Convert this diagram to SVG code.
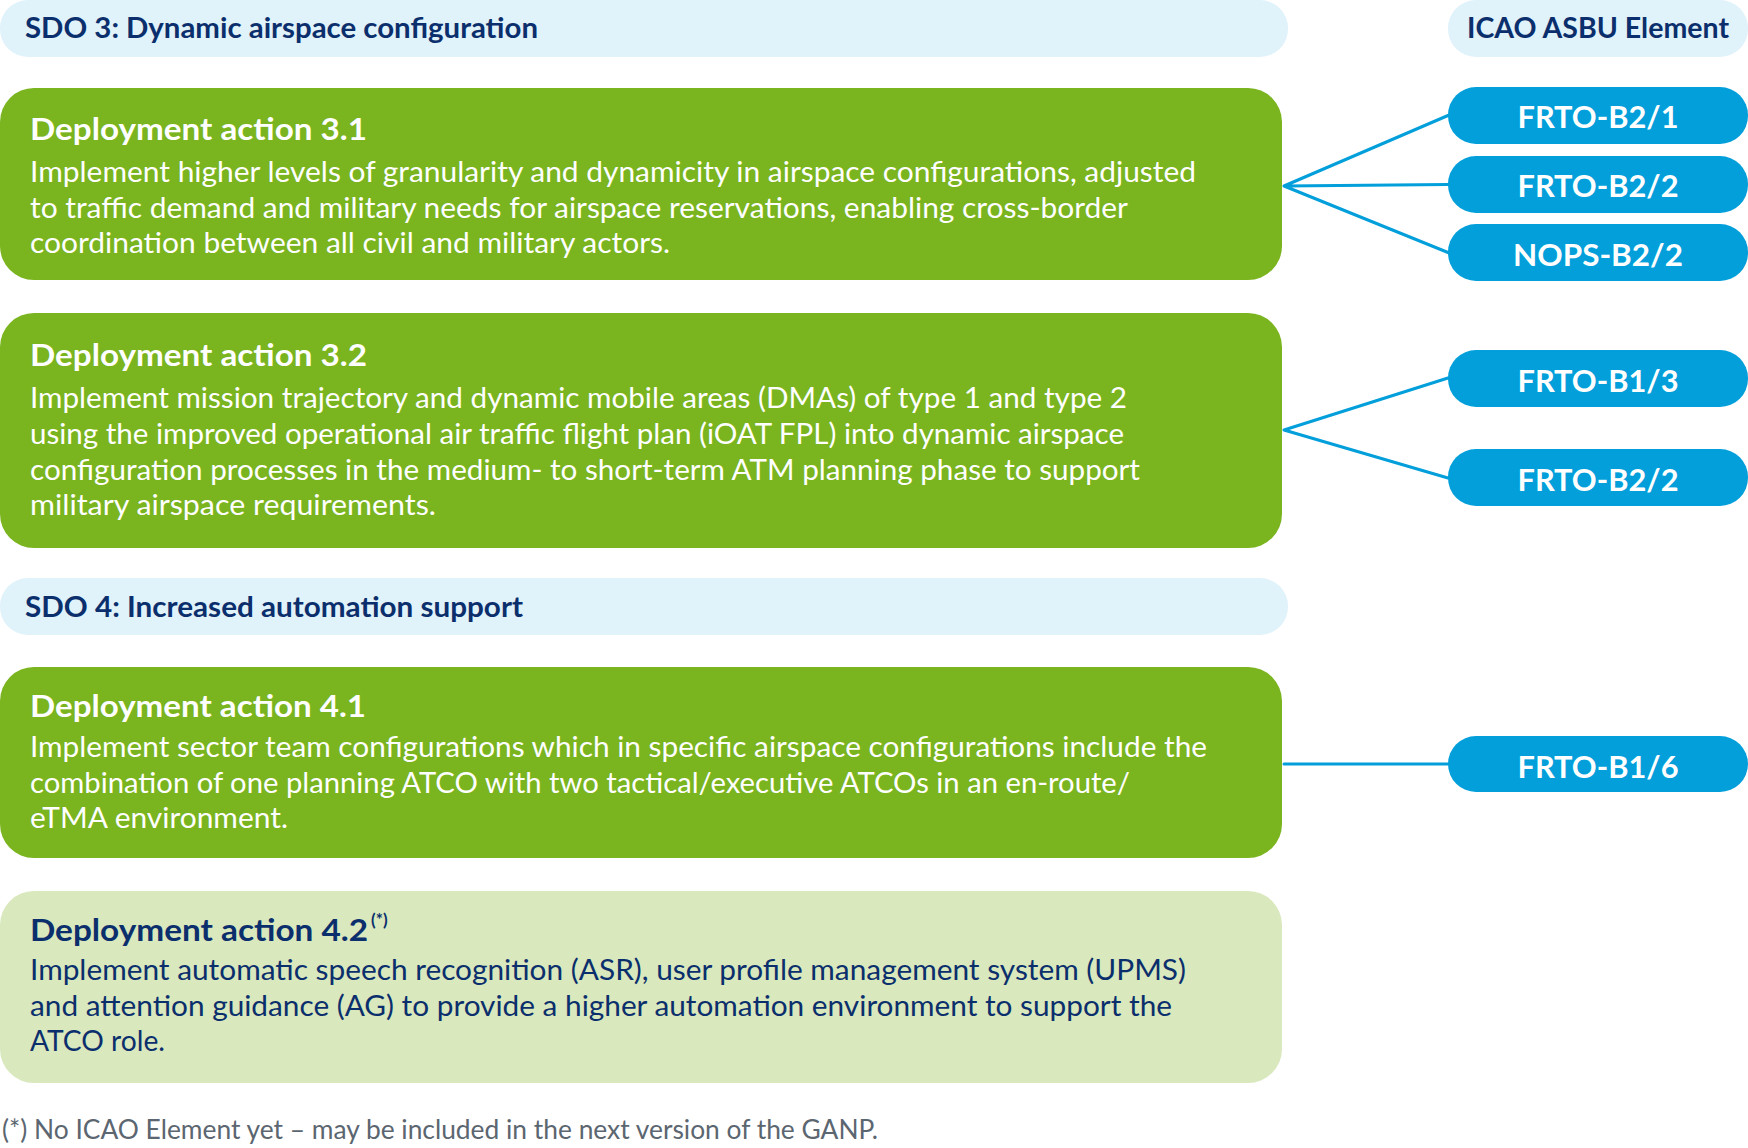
<svg xmlns="http://www.w3.org/2000/svg" width="1748" height="1148" viewBox="0 0 1748 1148">
<style>
.band{fill:#e0f2fa}
.green{fill:#7ab41e}
.lgreen{fill:#d9e8bd}
.pill{fill:#029fdb}
.hdr{font-family:Lato,"Open Sans",sans-serif;font-weight:700;font-size:29px;fill:#0b2f6c}
.ttl{font-family:Lato,"Open Sans",sans-serif;font-weight:700;font-size:31px;fill:#ffffff}
.body{font-family:Lato,"Open Sans",sans-serif;font-weight:400;font-size:28px;fill:#ffffff}
.navy{fill:#0b2f6c}
.ptxt{font-family:Lato,"Open Sans",sans-serif;font-weight:700;font-size:31px;fill:#ffffff;text-anchor:middle}
.foot{font-family:Lato,"Open Sans",sans-serif;font-weight:400;font-size:26px;fill:#5b6670}
.sup{font-family:Lato,"Open Sans",sans-serif;font-weight:700;font-size:17px;fill:#0b2f6c}
.conn{stroke:#029fdb;stroke-width:3;fill:none;stroke-linecap:round}
</style>
<g id="sdo3">
<rect class="band" x="0" y="0" width="1288" height="57" rx="28"/>
<text class="hdr" x="25" y="38" textLength="513" lengthAdjust="spacingAndGlyphs">SDO 3: Dynamic airspace configuration</text>
</g>
<g id="icao-header">
<rect class="band" x="1448" y="0" width="300" height="57" rx="28"/>
<text class="hdr" x="1467" y="38" textLength="262" lengthAdjust="spacingAndGlyphs">ICAO ASBU Element</text>
</g>
<g id="da31">
<rect class="green" x="0" y="88" width="1282" height="192" rx="34"/>
<text class="ttl" x="30" y="140" textLength="337" lengthAdjust="spacingAndGlyphs">Deployment action 3.1</text>
<text class="body" x="30" y="182" textLength="1166" lengthAdjust="spacingAndGlyphs">Implement higher levels of granularity and dynamicity in airspace configurations, adjusted</text>
<text class="body" x="30" y="217.5" textLength="1098" lengthAdjust="spacingAndGlyphs">to traffic demand and military needs for airspace reservations, enabling cross-border</text>
<text class="body" x="30" y="253" textLength="640" lengthAdjust="spacingAndGlyphs">coordination between all civil and military actors.</text>
</g>
<g id="da32">
<rect class="green" x="0" y="313" width="1282" height="235" rx="34"/>
<text class="ttl" x="30" y="366" textLength="337" lengthAdjust="spacingAndGlyphs">Deployment action 3.2</text>
<text class="body" x="30" y="408" textLength="1097" lengthAdjust="spacingAndGlyphs">Implement mission trajectory and dynamic mobile areas (DMAs) of type 1 and type 2</text>
<text class="body" x="30" y="444" textLength="1094" lengthAdjust="spacingAndGlyphs">using the improved operational air traffic flight plan (iOAT FPL) into dynamic airspace</text>
<text class="body" x="30" y="480" textLength="1110" lengthAdjust="spacingAndGlyphs">configuration processes in the medium- to short-term ATM planning phase to support</text>
<text class="body" x="30" y="515" textLength="406" lengthAdjust="spacingAndGlyphs">military airspace requirements.</text>
</g>
<g id="sdo4">
<rect class="band" x="0" y="578" width="1288" height="57" rx="28"/>
<text class="hdr" x="25" y="617" textLength="498" lengthAdjust="spacingAndGlyphs">SDO 4: Increased automation support</text>
</g>
<g id="da41">
<rect class="green" x="0" y="667" width="1282" height="191" rx="34"/>
<text class="ttl" x="30" y="717" textLength="336" lengthAdjust="spacingAndGlyphs">Deployment action 4.1</text>
<text class="body" x="30" y="757" textLength="1177" lengthAdjust="spacingAndGlyphs">Implement sector team configurations which in specific airspace configurations include the</text>
<text class="body" x="30" y="793" textLength="1100" lengthAdjust="spacingAndGlyphs">combination of one planning ATCO with two tactical/executive ATCOs in an en-route/</text>
<text class="body" x="30" y="828" textLength="258" lengthAdjust="spacingAndGlyphs">eTMA environment.</text>
</g>
<g id="da42">
<rect class="lgreen" x="0" y="891" width="1282" height="192" rx="34"/>
<text class="ttl navy" x="30" y="941" textLength="338" lengthAdjust="spacingAndGlyphs">Deployment action 4.2</text>
<text class="sup" x="371" y="926">(*)</text>
<text class="body navy" x="30" y="980" textLength="1156" lengthAdjust="spacingAndGlyphs">Implement automatic speech recognition (ASR), user profile management system (UPMS)</text>
<text class="body navy" x="30" y="1016" textLength="1142" lengthAdjust="spacingAndGlyphs">and attention guidance (AG) to provide a higher automation environment to support the</text>
<text class="body navy" x="30" y="1051" textLength="135" lengthAdjust="spacingAndGlyphs">ATCO role.</text>
</g>
<g id="p-frto-b2-1">
<rect class="pill" x="1448" y="87" width="300" height="57" rx="28"/>
<text class="ptxt" x="1598" y="128" textLength="161" lengthAdjust="spacingAndGlyphs">FRTO-B2/1</text>
</g>
<g id="p-frto-b2-2a">
<rect class="pill" x="1448" y="156" width="300" height="57" rx="28"/>
<text class="ptxt" x="1598" y="197" textLength="161" lengthAdjust="spacingAndGlyphs">FRTO-B2/2</text>
</g>
<g id="p-nops-b2-2">
<rect class="pill" x="1448" y="224" width="300" height="57" rx="28"/>
<text class="ptxt" x="1598" y="266" textLength="170" lengthAdjust="spacingAndGlyphs">NOPS-B2/2</text>
</g>
<g id="p-frto-b1-3">
<rect class="pill" x="1448" y="350" width="300" height="57" rx="28"/>
<text class="ptxt" x="1598" y="392" textLength="161" lengthAdjust="spacingAndGlyphs">FRTO-B1/3</text>
</g>
<g id="p-frto-b2-2b">
<rect class="pill" x="1448" y="449" width="300" height="57" rx="28"/>
<text class="ptxt" x="1598" y="491" textLength="161" lengthAdjust="spacingAndGlyphs">FRTO-B2/2</text>
</g>
<g id="p-frto-b1-6">
<rect class="pill" x="1448" y="736" width="300" height="56" rx="28"/>
<text class="ptxt" x="1598" y="778" textLength="161" lengthAdjust="spacingAndGlyphs">FRTO-B1/6</text>
</g>
<g id="connectors">
<path class="conn" d="M1284 186 L1448 115.5 M1284 186 L1448 184.5 M1284 186 L1448 252.5"/>
<path class="conn" d="M1284 430 L1448 378 M1284 430 L1448 478"/>
<path class="conn" d="M1284 764 L1448 764"/>
</g>
<text class="foot" x="2" y="1139" textLength="876" lengthAdjust="spacingAndGlyphs">(*) No ICAO Element yet – may be included in the next version of the GANP.</text>
</svg>
